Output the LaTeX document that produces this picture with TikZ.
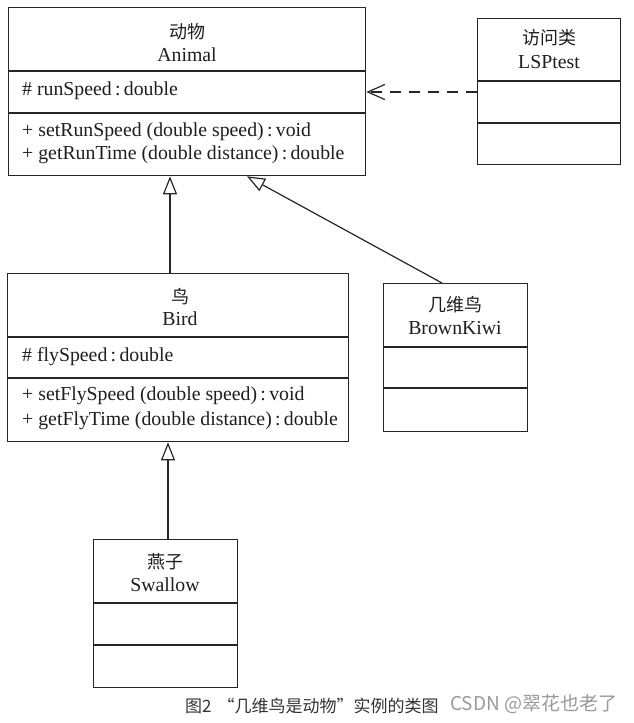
\documentclass[tikz,border=0pt]{standalone}
\usepackage{fontspec}
\setmainfont{Liberation Serif}
\newfontfamily\cjk{Noto Sans CJK SC}
\usetikzlibrary{arrows.meta}
\definecolor{linec}{HTML}{262626}
\definecolor{textc}{HTML}{1E1E1E}
\definecolor{capc}{HTML}{333333}
\definecolor{wmc}{HTML}{9A9A9A}
\tikzset{
  classbox/.style={draw=linec, line width=1.3pt, inner sep=0pt, anchor=north west, fill=white},
  sepline/.style={draw=linec, line width=1.3pt},
  txt/.style={font=\fontsize{19.8}{23}\selectfont, inner sep=0pt, text=textc},
  member/.style={txt, anchor=west},
  cn/.style={font=\cjk\fontsize{18}{22}\selectfont, inner sep=0pt, text=textc},
  gen/.style={-{Triangle[open,length=18pt,width=14pt,line width=1.2pt]}, line width=1.2pt, draw=linec},
  dep/.style={-{Straight Barb[length=17pt,width=15pt,line width=1.2pt]}, dash pattern=on 11pt off 8pt, line width=1.2pt, draw=linec}
}
\begin{document}
\begin{tikzpicture}[x=1pt,y=-1pt]
\useasboundingbox[fill=white] (0,0) rectangle (633,723);

% Animal
\node[classbox, minimum width=357pt, minimum height=168pt] (animal) at (8,7) {};
\draw[sepline] (8,71) -- (365,71);
\draw[sepline] (8,113) -- (365,113);
\node[cn] (animalcn) at (187,32) {动物};
\node[txt] (animalen) at (187,55) {Animal};
\node[member] (animala) at (22,91) {\# runSpeed\,:\,double};
\node[member] (animalm1) at (22,132) {+ setRunSpeed (double speed)\,:\,void};
\node[member] (animalm2) at (22,155) {+ getRunTime (double distance)\,:\,double};

% LSPtest
\node[classbox, minimum width=143pt, minimum height=146pt] (lsp) at (477,18) {};
\draw[sepline] (477,81) -- (620,81);
\draw[sepline] (477,123) -- (620,123);
\node[cn] (lspcn) at (549,38) {访问类};
\node[txt] (lspen) at (549,62) {LSPtest};

% Bird
\node[classbox, minimum width=341pt, minimum height=168pt] (bird) at (7,273) {};
\draw[sepline] (7,337) -- (348,337);
\draw[sepline] (7,378) -- (348,378);
\node[cn] (birdcn) at (180,297) {鸟};
\node[txt] (birden) at (180,319) {Bird};
\node[member] (birda) at (22,357) {\# flySpeed\,:\,double};
\node[member] (birdm1) at (22,396) {+ setFlySpeed (double speed)\,:\,void};
\node[member] (birdm2) at (22,421) {+ getFlyTime (double distance)\,:\,double};

% BrownKiwi
\node[classbox, minimum width=144pt, minimum height=148pt] (kiwi) at (383,283) {};
\draw[sepline] (383,347) -- (527,347);
\draw[sepline] (383,388) -- (527,388);
\node[cn] (kiwicn) at (455,305) {几维鸟};
\node[txt] (kiwien) at (455,328) {BrownKiwi};

% Swallow
\node[classbox, minimum width=144pt, minimum height=148pt] (swallow) at (93,539) {};
\draw[sepline] (93,603) -- (237,603);
\draw[sepline] (93,645) -- (237,645);
\node[cn] (swallowcn) at (165,562) {燕子};
\node[txt] (swallowen) at (165,585) {Swallow};

% connectors
\coordinate (xa) at (170,0);
\coordinate (xs) at (168,0);
\coordinate (k1) at (442,0);
\coordinate (a1) at (247,0);
\coordinate (yd) at (0,92);
\draw[gen] (bird.north -| xa) -- (animal.south -| xa);
\draw[gen] (swallow.north -| xs) -- (bird.south -| xs);
\draw[gen] (kiwi.north -| k1) -- (animal.south -| a1);
\draw[dep] (lsp.west |- yd) -- (animal.east |- yd);

% caption and watermark
\node[font=\cjk\fontsize{17}{20}\selectfont, text=capc, anchor=west, inner sep=0pt] (cap) at (185,706) {图2\hspace{6pt}“几维鸟是动物”实例的类图};
\node[font=\cjk\fontsize{19}{22}\selectfont, text=wmc, anchor=west, inner sep=0pt] (wm) at (450,704) {CSDN @翠花也老了};
\end{tikzpicture}
\end{document}
